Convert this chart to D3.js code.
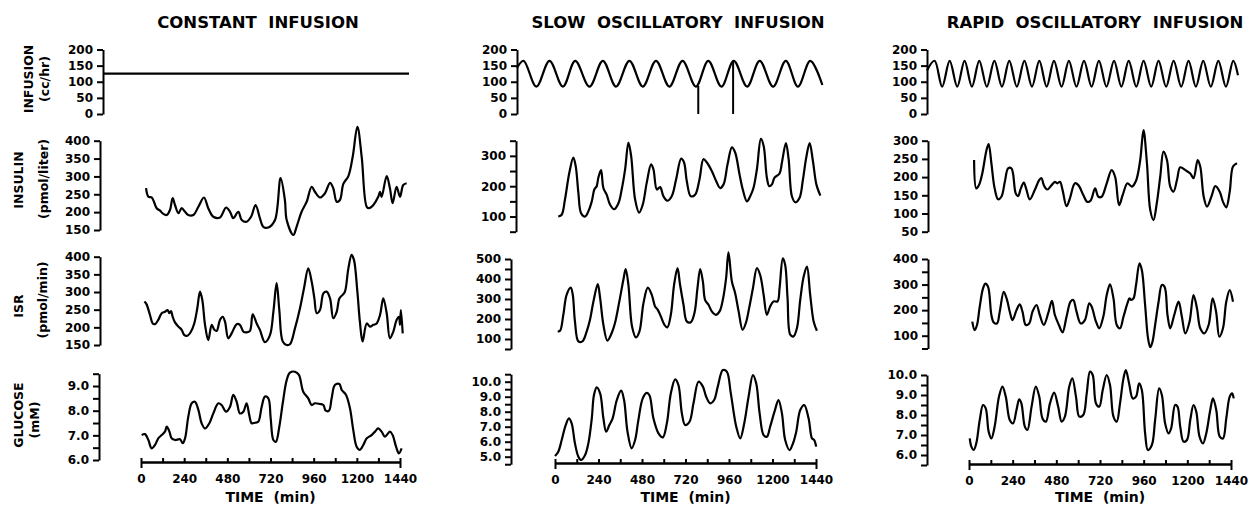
<!DOCTYPE html>
<html>
<head>
<meta charset="utf-8">
<script src="https://cdn.jsdelivr.net/npm/d3@7"></script>
<style>
body { margin: 0; background: #fff; }
text { font-family: "DejaVu Sans", sans-serif; font-weight: bold; fill: #000; }
</style>
</head>
<body>
<script>
var w = 1251;
var h = 506;

// titles / labels
var titles = ["CONSTANT  INFUSION", "SLOW  OSCILLATORY  INFUSION", "RAPID  OSCILLATORY  INFUSION"];
var rowLabels = [["INFUSION", "(cc/hr)"], ["INSULIN", "(pmol/liter)"], ["ISR", "(pmol/min)"], ["GLUCOSE", "(mM)"]];
var timeLabels = [0, 240, 480, 720, 960, 1200, 1440];
var timeTicks = [0, 120, 240, 360, 480, 600, 720, 840, 960, 1080, 1200, 1320, 1440];

// y ticks (one list per column)
var infusionTicks = [[0, 50, 100, 150, 200], [0, 50, 100, 150, 200], [0, 50, 100, 150, 200]];
var infusionTickLabels = infusionTicks;
var insulinTicks = [[150, 200, 250, 300, 350, 400], [50, 100, 150, 200, 250, 300, 350], [50, 100, 150, 200, 250, 300]];
var insulinTickLabels = [[150, 200, 250, 300, 350, 400], [100, 200, 300], [50, 100, 150, 200, 250, 300]];
var isrTicks = [[150, 200, 250, 300, 350, 400], [50, 100, 150, 200, 250, 300, 350, 400, 450, 500], [50, 100, 150, 200, 250, 300, 350, 400]];
var isrTickLabels = [[150, 200, 250, 300, 350, 400], [100, 200, 300, 400, 500], [100, 200, 300, 400]];
var glucoseTicks = [[6, 6.5, 7, 7.5, 8, 8.5, 9, 9.5], [4.5, 5, 5.5, 6, 6.5, 7, 7.5, 8, 8.5, 9, 9.5, 10, 10.5], [5.5, 6, 6.5, 7, 7.5, 8, 8.5, 9, 9.5, 10]];
var glucoseTickLabels = [[6, 7, 8, 9], [5, 6, 7, 8, 9, 10], [6, 7, 8, 9, 10]];

// infusion rate, cc/hr  [time, value]
var constantInf = [[0, 125], [1440, 125]];
var slowInf = [[0,143],[31,165],[91,85],[153,165],[216,85],[274,165],[341,85],[404,165],[466,85],[529,165],[592,85],[654,165],[717,85],[779,165],[842,85],[900,165],[962,85],[1020,165],[1083,85],[1142,165],[1205,85],[1265,165],[1322,85],[1380,165],[1437,90]];
var slowInfDrops = [[853, 87], [1017, 165]];
var rapidInf = [[0,135],[35,165],[70,85],[105,165],[140,85],[174,165],[208,85],[242,165],[277,85],[312,165],[347,85],[381,165],[416,85],[451,165],[486,85],[520,165],[554,85],[588,165],[623,85],[657,165],[692,85],[727,165],[762,85],[796,165],[831,85],[866,165],[900,85],[934,165],[969,85],[1003,165],[1038,85],[1072,165],[1107,85],[1142,165],[1177,85],[1211,165],[1245,85],[1279,165],[1314,85],[1349,165],[1384,85],[1418,165],[1440,120]];

// insulin, pmol/liter
var insulinConst = [[28,267],[41,243],[59,241],[72,229],[87,211],[106,204],[124,195],[143,192],[161,206],[176,239],[189,220],[208,197],[226,211],[245,201],[263,192],[291,192],[319,215],[350,241],[374,211],[402,187],[439,185],[473,213],[495,201],[513,183],[541,201],[560,178],[587,173],[612,187],[637,220],[661,183],[680,159],[708,157],[745,178],[776,295],[800,234],[810,178],[847,136],[865,159],[893,201],[921,229],[949,271],[967,257],[995,241],[1023,253],[1051,282],[1069,267],[1088,229],[1106,234],[1125,279],[1153,301],[1177,355],[1203,439],[1227,355],[1255,215],[1269,211],[1292,220],[1319,243],[1329,257],[1338,243],[1366,301],[1384,267],[1399,225],[1421,271],[1440,243],[1458,276],[1477,281]];
var insulinSlow = [[18,100],[37,106],[55,156],[79,244],[101,294],[114,267],[129,178],[144,111],[166,100],[184,117],[203,150],[217,189],[230,200],[239,228],[254,253],[267,194],[285,172],[304,139],[326,124],[350,144],[368,189],[387,256],[405,344],[420,300],[442,156],[464,113],[484,139],[506,211],[530,272],[543,256],[562,189],[580,197],[598,167],[620,152],[644,167],[668,222],[696,291],[712,278],[727,217],[749,167],[773,172],[797,222],[819,289],[838,278],[865,250],[889,217],[911,194],[930,206],[952,272],[976,328],[994,311],[1018,239],[1036,189],[1059,150],[1077,167],[1095,194],[1114,256],[1136,356],[1151,333],[1169,228],[1182,200],[1197,206],[1211,228],[1239,242],[1252,278],[1274,342],[1289,289],[1307,167],[1326,147],[1349,161],[1368,222],[1386,294],[1405,342],[1423,283],[1442,206],[1464,169]];
var insulinRapid = [[28,247],[40,169],[55,178],[73,210],[96,274],[108,291],[123,238],[141,169],[160,139],[178,146],[197,187],[215,224],[233,224],[242,210],[257,155],[270,148],[285,169],[301,185],[316,165],[334,139],[362,165],[386,192],[399,197],[411,178],[430,166],[454,178],[472,187],[485,183],[500,187],[514,165],[536,120],[555,142],[582,183],[601,178],[628,151],[650,132],[669,136],[693,169],[711,146],[729,146],[757,183],[784,219],[803,201],[825,123],[845,151],[871,183],[895,174],[918,190],[941,247],[959,329],[978,238],[996,110],[1014,82],[1032,128],[1051,201],[1069,270],[1088,247],[1106,174],[1124,160],[1143,192],[1161,227],[1189,219],[1216,210],[1234,197],[1257,247],[1271,229],[1290,146],[1308,119],[1332,146],[1354,175],[1378,160],[1396,132],[1414,117],[1433,160],[1451,229],[1473,238]];

// insulin secretion rate, pmol/min
var isrConst = [[19,273],[31,265],[50,235],[65,211],[78,209],[96,221],[115,240],[133,244],[148,249],[158,240],[167,246],[176,230],[189,214],[208,202],[226,193],[241,178],[258,176],[276,186],[296,211],[313,254],[328,301],[341,277],[356,207],[374,164],[393,207],[408,193],[421,190],[439,221],[454,230],[467,216],[485,169],[504,183],[532,209],[550,207],[569,188],[587,186],[606,190],[621,237],[643,211],[661,193],[689,158],[717,178],[736,244],[754,325],[769,249],[788,160],[810,150],[828,152],[856,197],[884,254],[906,310],[930,367],[949,329],[964,282],[977,240],[995,249],[1014,296],[1032,301],[1051,282],[1069,226],[1088,244],[1103,282],[1121,292],[1134,301],[1153,367],[1171,405],[1184,391],[1203,301],[1217,216],[1232,160],[1255,211],[1273,202],[1292,207],[1310,211],[1329,235],[1347,282],[1366,240],[1384,169],[1403,188],[1421,221],[1434,230],[1440,207],[1445,249],[1455,183]];
var isrSlow = [[15,138],[28,141],[46,221],[64,321],[87,357],[98,321],[110,188],[129,88],[151,88],[175,138],[193,196],[212,288],[236,374],[249,304],[267,171],[289,92],[313,130],[331,180],[355,288],[377,395],[390,450],[405,371],[425,163],[447,108],[466,138],[488,279],[512,357],[534,321],[552,263],[567,246],[584,213],[604,171],[620,158],[639,221],[657,371],[676,454],[690,371],[709,271],[727,188],[749,184],[770,233],[786,354],[801,450],[816,387],[828,296],[847,271],[865,238],[887,221],[908,238],[926,296],[944,404],[957,533],[976,387],[994,329],[1013,238],[1035,146],[1053,180],[1071,254],[1092,354],[1114,454],[1132,420],[1151,321],[1169,221],[1187,263],[1206,288],[1228,288],[1239,354],[1257,503],[1270,470],[1283,304],[1298,122],[1316,113],[1335,155],[1353,296],[1372,412],[1390,462],[1408,321],[1427,188],[1445,141]];
var isrRapid = [[18,155],[31,122],[44,142],[59,214],[77,285],[90,304],[105,291],[123,181],[136,152],[154,148],[169,194],[191,272],[209,240],[224,194],[239,161],[261,200],[279,223],[294,194],[312,142],[331,148],[349,194],[371,220],[389,181],[411,142],[435,187],[456,236],[472,181],[494,142],[514,113],[536,174],[558,233],[573,240],[591,194],[614,148],[637,161],[661,227],[674,214],[698,155],[716,129],[738,174],[757,259],[775,301],[794,246],[812,142],[830,129],[849,174],[871,227],[882,246],[891,240],[904,246],[918,298],[937,383],[950,357],[968,220],[984,90],[996,55],[1008,75],[1023,142],[1042,233],[1060,298],[1075,291],[1091,181],[1106,129],[1128,181],[1152,233],[1170,174],[1189,109],[1212,155],[1234,259],[1253,207],[1271,129],[1293,109],[1317,142],[1339,246],[1358,194],[1376,96],[1396,129],[1414,233],[1433,278],[1451,233]];

// glucose, mM
var glucoseConst = [[4,7.01],[22,7.05],[41,6.81],[59,6.47],[78,6.61],[96,6.88],[115,7.01],[133,7.15],[143,7.35],[158,7.15],[170,6.88],[189,6.81],[217,6.84],[232,6.68],[245,6.88],[263,7.76],[282,8.30],[300,8.36],[319,8.03],[337,7.49],[356,7.28],[380,7.49],[402,7.89],[430,8.30],[448,8.23],[473,7.96],[495,8.16],[513,8.64],[532,8.36],[550,7.89],[569,7.96],[587,8.30],[602,7.82],[615,7.49],[634,7.51],[652,7.55],[671,8.16],[689,8.57],[708,8.50],[721,7.69],[736,6.81],[750,6.74],[769,7.35],[788,8.30],[810,9.24],[828,9.54],[856,9.58],[878,9.45],[902,8.77],[930,8.50],[949,8.23],[967,8.30],[995,8.27],[1014,8.23],[1027,8.00],[1045,8.00],[1060,8.50],[1078,9.04],[1103,9.08],[1116,8.84],[1140,8.64],[1162,8.09],[1180,7.22],[1199,6.54],[1217,6.41],[1236,6.61],[1255,6.88],[1282,7.01],[1301,7.15],[1319,7.28],[1338,7.15],[1356,6.95],[1384,7.15],[1399,7.01],[1418,6.54],[1434,6.27],[1449,6.47]];
var glucoseSlow = [[0,5.04],[18,5.33],[37,6.11],[59,7.11],[77,7.56],[92,7.22],[110,5.89],[129,5.00],[144,4.78],[166,5.11],[184,5.89],[203,7.56],[215,9.11],[230,9.62],[249,9.22],[267,7.56],[282,6.67],[300,7.11],[318,7.56],[341,8.78],[365,9.40],[381,8.78],[400,6.67],[423,5.56],[442,6.11],[460,7.44],[484,8.89],[506,9.25],[521,9.10],[543,7.56],[571,6.56],[595,6.29],[617,7.22],[639,9.22],[663,10.16],[681,9.78],[700,7.89],[718,7.11],[742,7.33],[764,8.56],[792,10.00],[816,9.67],[834,9.00],[856,8.56],[878,8.78],[898,9.67],[926,10.78],[948,10.67],[970,9.22],[1000,7.00],[1022,6.22],[1044,7.22],[1068,9.00],[1092,10.44],[1110,9.89],[1129,7.89],[1151,6.44],[1169,6.33],[1187,7.00],[1211,8.00],[1233,8.78],[1252,7.89],[1270,6.11],[1294,5.44],[1313,5.89],[1331,6.67],[1353,8.11],[1375,8.44],[1399,7.56],[1418,6.22],[1430,6.11],[1441,5.67]];
var glucoseRapid = [[4,6.83],[13,6.42],[26,6.25],[40,6.58],[59,7.75],[77,8.50],[92,8.33],[108,7.17],[123,6.83],[141,7.42],[165,8.92],[184,9.42],[202,8.92],[224,7.75],[242,7.58],[261,8.25],[276,8.78],[288,8.58],[307,7.42],[321,7.25],[344,8.42],[367,9.42],[386,8.92],[404,7.83],[423,7.67],[445,8.58],[468,9.12],[490,8.42],[509,7.67],[527,7.92],[551,9.42],[568,9.83],[588,8.92],[606,7.92],[628,8.00],[647,9.08],[665,10.17],[680,10.00],[698,8.58],[716,8.42],[735,9.25],[757,10.00],[775,9.50],[794,7.92],[812,7.67],[830,8.58],[849,9.83],[862,10.25],[880,9.58],[900,8.83],[918,8.92],[935,9.58],[950,9.25],[968,7.08],[983,6.25],[1005,6.50],[1023,7.75],[1045,9.33],[1060,9.00],[1078,7.58],[1097,7.08],[1111,7.33],[1133,8.50],[1146,8.42],[1161,7.42],[1179,6.67],[1198,6.75],[1216,7.75],[1234,8.50],[1249,8.17],[1267,6.92],[1286,6.58],[1304,7.08],[1326,8.25],[1341,8.83],[1359,8.25],[1378,6.92],[1396,6.83],[1414,7.83],[1433,8.92],[1446,9.08],[1455,8.83]];

// ---- layout (pixels) ----
var cols = [
  {titleX: 258, infX: [103, 409], tX: [141, 400], axisX: [103, 100, 100, 99],
   yRange: [[114, 49.5], [230, 140.7], [345, 256.7], [460, 373.7]], timeY: 462},
  {titleX: 678, infX: [517, 823], tX: [555, 816], axisX: [517, 516, 511, 511],
   yRange: [[114, 49.5], [231.7, 140.7], [349, 259], [464.2, 374.2]], timeY: 463},
  {titleX: 1095, infX: [927, 1238], tX: [969, 1231], axisX: [927, 928, 928, 927],
   yRange: [[114, 49.5], [231.7, 140.7], [348.5, 259], [465, 375]], timeY: 464}
];
var rowLabelPos = [[[28, 79], [44, 79]], [[18, 180], [43, 179]], [[18, 306], [42, 300]], [[18, 415], [34, 420]]];

var rows = [
  {series: [constantInf, slowInf, rapidInf], ticks: infusionTicks, labels: infusionTickLabels, fmt: d3.format("d")},
  {series: [insulinConst, insulinSlow, insulinRapid], ticks: insulinTicks, labels: insulinTickLabels, fmt: d3.format("d")},
  {series: [isrConst, isrSlow, isrRapid], ticks: isrTicks, labels: isrTickLabels, fmt: d3.format("d")},
  {series: [glucoseConst, glucoseSlow, glucoseRapid], ticks: glucoseTicks, labels: glucoseTickLabels, fmt: d3.format(".1f")}
];

var svg = d3.select("body").append("svg")
    .attr("width", w)
    .attr("height", h);

function styleAxis(g) {
  g.attr("font-family", null).attr("font-size", null);
  g.selectAll("path, line").attr("stroke", "#000").attr("stroke-width", 2);
  g.selectAll("text").style("font-size", "12px");
}

// titles
svg.selectAll("text.title")
  .data(titles)
  .enter().append("text")
  .attr("class", "title")
  .attr("x", function(d, i) { return cols[i].titleX; })
  .attr("y", 28)
  .attr("text-anchor", "middle")
  .style("white-space", "pre")
  .style("font-size", "16.5px")
  .text(function(d) { return d; });

// row labels (left column only)
rowLabels.forEach(function(lab, r) {
  lab.forEach(function(s, k) {
    svg.append("text")
      .attr("transform", "translate(" + rowLabelPos[r][k][0] + "," + rowLabelPos[r][k][1] + ") rotate(-90)")
      .attr("text-anchor", "middle")
      .attr("dy", "0.36em")
      .style("font-size", "12.5px")
      .text(s);
  });
});

cols.forEach(function(c, ci) {
  rows.forEach(function(row, ri) {
    var ticks = row.ticks[ci];
    var labs = row.labels[ci];
    var y = d3.scaleLinear().domain(d3.extent(ticks)).range(c.yRange[ri]);
    var x = d3.scaleLinear().domain([0, 1440]).range(ri === 0 ? c.infX : c.tX);

    var yAxis = d3.axisLeft(y)
      .tickValues(ticks)
      .tickFormat(function(d) { return labs.indexOf(d) >= 0 ? row.fmt(d) : ""; })
      .tickSizeInner(6)
      .tickSizeOuter(0)
      .tickPadding(4);

    svg.append("g")
      .attr("transform", "translate(" + c.axisX[ri] + ",0)")
      .call(yAxis)
      .call(styleAxis);

    var line = d3.line()
      .x(function(d) { return x(d[0]); })
      .y(function(d) { return y(d[1]); })
      .curve(d3.curveCatmullRom.alpha(0.5));

    svg.append("path")
      .datum(row.series[ci])
      .attr("d", line)
      .attr("fill", "none")
      .attr("stroke", "#000")
      .attr("stroke-width", 2.2)
      .attr("stroke-linejoin", "round");

    // interruptions of the slow infusion
    if (ri === 0 && ci === 1) {
      svg.selectAll("line.drop")
        .data(slowInfDrops)
        .enter().append("line")
        .attr("class", "drop")
        .attr("x1", function(d) { return x(d[0]); })
        .attr("x2", function(d) { return x(d[0]); })
        .attr("y1", function(d) { return y(d[1]); })
        .attr("y2", y(0))
        .attr("stroke", "#000")
        .attr("stroke-width", 2);
    }
  });

  // time axis
  var xt = d3.scaleLinear().domain([0, 1440]).range(c.tX);
  var xAxis = d3.axisBottom(xt)
    .tickValues(timeTicks)
    .tickFormat(function(d) { return timeLabels.indexOf(d) >= 0 ? d : ""; })
    .tickSizeInner(-4)
    .tickSizeOuter(0)
    .tickPadding(12);
  svg.append("g")
    .attr("transform", "translate(0," + c.timeY + ")")
    .call(xAxis)
    .call(styleAxis);
  svg.append("g")
    .attr("transform", "translate(0," + c.timeY + ")")
    .call(d3.axisBottom(xt).tickValues([0, 1440]).tickFormat("").tickSizeInner(6).tickSizeOuter(0))
    .call(styleAxis);

  svg.append("text")
    .attr("x", (c.tX[0] + c.tX[1]) / 2)
    .attr("y", 502)
    .attr("text-anchor", "middle")
    .style("white-space", "pre")
    .style("font-size", "14px")
    .text("TIME  (min)");
});
</script>
</body>
</html>
